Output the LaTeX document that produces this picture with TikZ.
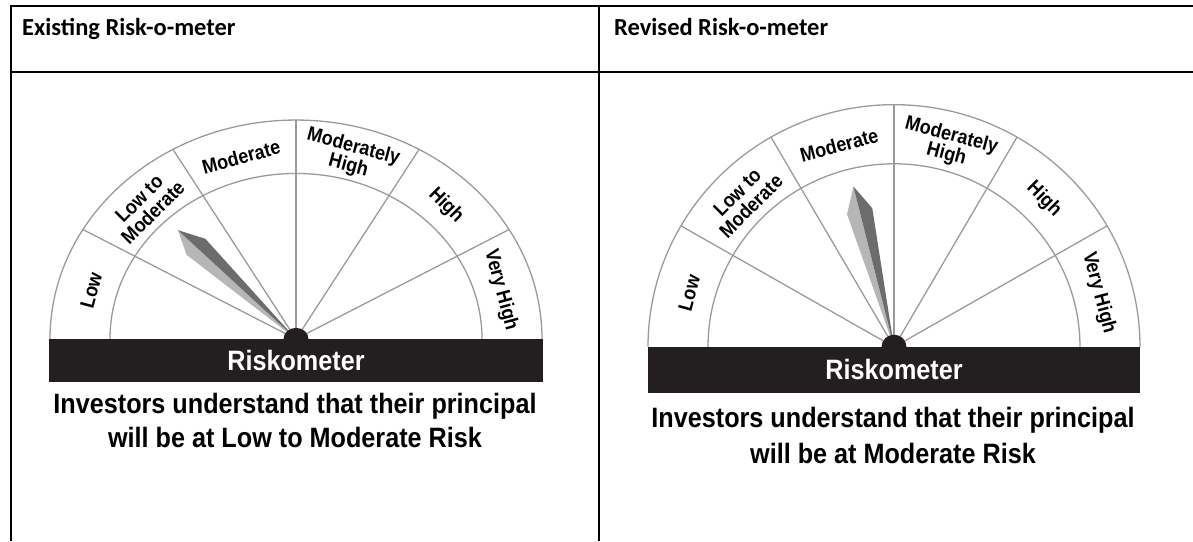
\documentclass[tikz,border=0pt]{standalone}
\usepackage{fontspec}
\usepackage{tikz}
\usetikzlibrary{positioning}
\newfontfamily\hdrfont{Carlito}
\newfontfamily\meterfont[FakeStretch=0.9]{Liberation Sans}
\definecolor{barblack}{HTML}{231F20}
\definecolor{dialgray}{HTML}{9A9A9A}
\definecolor{needledark}{HTML}{6C6C6C}
\definecolor{needlelight}{HTML}{B6B6B6}

\begin{document}
\begin{tikzpicture}[
        x = 1pt, y = 1pt,
        rule/.style = {line width = 1.6pt, black},
        dial/.style = {draw = dialgray, line width = 1.3pt},
        band/.style = {
            font = \meterfont\bfseries\fontsize{20}{19.5}\selectfont,
            align = center,
            inner sep = 0pt
        },
        head/.style = {
            font = \hdrfont\bfseries\fontsize{24.5}{28}\selectfont,
            anchor = base west,
            inner sep = 0pt
        },
        caption/.style = {
            font = \meterfont\bfseries\fontsize{28}{34}\selectfont,
            anchor = base,
            inner sep = 0pt
        }
        ]
        \useasboundingbox (0,0) rectangle (1193,541);
%
        \draw[rule] (11,0) -- (11,535) -- (1193,535);
        \draw[rule] (11,469) -- (1193,469);
        \draw[rule] (599,0) -- (599,535);
%
        \node[head] (hdrL) at (22,505) {Existing Risk-o-meter};
        \node[head] (hdrR) at (614,505) {Revised Risk-o-meter};
%
% existing meter
%
        \coordinate (cL) at (296,202);
        \begin{scope}[shift = {(cL)}, yscale = 0.89]
            \draw[dial] (246,0) arc [start angle=0, end angle=180, radius=246];
            \draw[dial] (186,0) arc [start angle=0, end angle=180, radius=186];
            \draw[dial] (0,0) -- (150:246);
            \draw[dial] (0,0) -- (120:246);
            \draw[dial] (0,0) -- (90:246);
            \draw[dial] (0,0) -- (60:246);
            \draw[dial] (0,0) -- (30:246);
%
            \node[band, rotate = 75] (lowL) at (165:212) {Low};
            \node[band, rotate = 45] (ltmL) at (135:212) {Low to\\Moderate};
            \node[band, rotate = 15] (modL) at (105:212) {Moderate};
            \node[band, rotate = -15] (mhL) at (75:212) {Moderately\\High};
            \node[band, rotate = -45] (highL) at (45:212) {High};
            \node[band, rotate = -75] (vhL) at (15:212) {Very High};
%
            \begin{scope}[rotate = 134]
                \fill[needlelight] (0,0) -- (170,0) -- (144,13) -- cycle;
                \fill[needledark] (0,0) -- (170,0) -- (144,-13) -- cycle;
            \end{scope}
            \fill[barblack] (12.5,0) arc [start angle=0, end angle=180, radius=12.5] -- cycle;
        \end{scope}
        \fill[barblack] (49,202) rectangle (543,159);
        \node[caption, text = white] (rkL) at (296,170) {Riskometer};
%
        \node[caption] (capL1) at (295,128) {Investors understand that their principal};
        \node[caption] (capL2) at (295,94) {will be at Low to Moderate Risk};
%
% revised meter
%
        \coordinate (cR) at (894,194);
        \begin{scope}[shift = {(cR)}, yscale = 0.985]
            \draw[dial] (246,0) arc [start angle=0, end angle=180, radius=246];
            \draw[dial] (186,0) arc [start angle=0, end angle=180, radius=186];
            \draw[dial] (0,0) -- (150:246);
            \draw[dial] (0,0) -- (120:246);
            \draw[dial] (0,0) -- (90:246);
            \draw[dial] (0,0) -- (60:246);
            \draw[dial] (0,0) -- (30:246);
%
            \node[band, rotate = 75] (lowR) at (165:212) {Low};
            \node[band, rotate = 45] (ltmR) at (135:212) {Low to\\Moderate};
            \node[band, rotate = 15] (modR) at (105:212) {Moderate};
            \node[band, rotate = -15] (mhR) at (75:212) {Moderately\\High};
            \node[band, rotate = -45] (highR) at (45:212) {High};
            \node[band, rotate = -75] (vhR) at (15:212) {Very High};
%
            \begin{scope}[rotate = 104]
                \fill[needlelight] (0,0) -- (168,0) -- (142,13) -- cycle;
                \fill[needledark] (0,0) -- (168,0) -- (142,-13) -- cycle;
            \end{scope}
            \fill[barblack] (12.5,0) arc [start angle=0, end angle=180, radius=12.5] -- cycle;
        \end{scope}
        \fill[barblack] (648,194) rectangle (1140,148);
        \node[caption, text = white] (rkR) at (894,161) {Riskometer};
%
        \node[caption] (capR1) at (893,114) {Investors understand that their principal};
        \node[caption] (capR2) at (893,78) {will be at Moderate Risk};
%
    \end{tikzpicture}
\end{document}
